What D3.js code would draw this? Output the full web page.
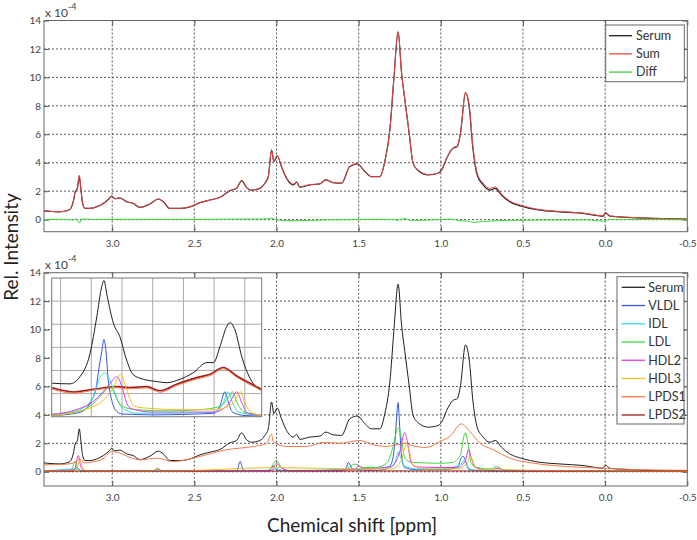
<!DOCTYPE html>
<html><head><meta charset="utf-8">
<script src="https://cdn.jsdelivr.net/npm/d3@7"></script>
<style>body{margin:0;background:#fff} text{font-family:Lato,"Liberation Sans",sans-serif}</style>
</head><body><svg id="c" width="697" height="540"></svg>
<script>
// ---------- data ----------
const xTicks = [3.0, 2.5, 2.0, 1.5, 1.0, 0.5, 0.0, -0.5];
const yTicks = [0, 2, 4, 6, 8, 10, 12, 14];
const topLegend = ["Serum", "Sum", "Diff"];
const botLegend = ["Serum", "VLDL", "IDL", "LDL", "HDL2", "HDL3", "LPDS1", "LPDS2"];

const serumPpm = [3.415,3.36,3.318,3.28,3.257,3.237,3.225,3.212,3.2,3.192,3.18,3.166,3.135,3.085,3.054,3.02,3.003,2.983,2.953,2.912,2.872,2.831,2.77,2.72,2.689,2.649,2.588,2.527,2.466,2.405,2.344,2.283,2.243,2.212,2.182,2.152,2.101,2.071,2.05,2.03,2.016,1.996,1.97,1.939,1.898,1.878,1.858,1.797,1.736,1.7,1.655,1.604,1.554,1.509,1.462,1.422,1.371,1.341,1.31,1.286,1.26,1.239,1.219,1.193,1.169,1.138,1.077,1.016,0.99,0.965,0.925,0.9,0.88,0.85,0.828,0.804,0.779,0.743,0.702,0.668,0.631,0.581,0.51,0.398,0.276,0.134,0.012,-0.002,-0.028,-0.13,-0.312,-0.5];
const serumVals = [0.62,0.57,0.55,0.62,0.72,1.26,1.95,2.2,3.02,2.32,1.14,0.79,0.79,0.95,1.14,1.45,1.66,1.47,1.52,1.26,1.14,0.86,1.1,1.45,1.26,0.79,0.79,0.9,1.19,1.38,1.57,2.04,2.2,2.74,2.25,2.08,2.2,2.56,3.02,4.91,4.08,4.49,3.73,2.91,2.44,2.63,2.28,2.44,2.51,2.79,2.6,2.56,3.73,3.92,3.38,3.02,3.02,4.08,6.33,9.86,13.2,10.33,8.45,6.09,3.97,3.45,3.14,3.26,3.6,4.3,5.03,5.14,6.09,8.92,7.97,4.91,3.14,2.44,2.08,2.2,1.73,1.26,0.95,0.67,0.55,0.44,0.25,0.48,0.25,0.16,0.08,0.04];
const sumVals = [0.62,0.57,0.56,0.62,0.73,1.28,1.97,2.22,3.12,2.3,1.14,0.8,0.79,0.95,1.14,1.45,1.67,1.47,1.52,1.26,1.14,0.86,1.1,1.45,1.27,0.79,0.79,0.9,1.19,1.38,1.57,2.04,2.2,2.74,2.25,2.08,2.2,2.56,3.0,4.85,4.08,4.5,3.73,2.95,2.5,2.63,2.32,2.46,2.52,2.8,2.6,2.56,3.73,3.92,3.38,3.02,3.02,4.08,6.33,9.86,13.2,10.3,8.45,6.13,3.99,3.48,3.17,3.26,3.6,4.3,5.05,5.17,6.12,8.95,8.1,5.1,3.3,2.58,2.2,2.3,1.8,1.32,1.0,0.7,0.57,0.46,0.27,0.5,0.26,0.17,0.08,0.04];

const diffPpm = [3.415,3.3,3.24,3.215,3.2,3.185,3.1,2.9,2.6,2.3,2.05,2.03,2.0,1.9,1.7,1.5,1.3,1.26,1.22,1.18,1.1,1.0,0.95,0.87,0.84,0.8,0.76,0.7,0.6,0.4,0.1,0.0,-0.02,-0.5];
const diffVals = [0.0,0.02,-0.02,0.05,-0.25,0.05,0.0,0.02,0.0,0.03,0.05,0.1,-0.02,-0.08,-0.02,0.0,0.02,-0.05,0.08,-0.05,-0.04,0.0,0.03,-0.08,-0.1,-0.2,-0.15,-0.1,-0.05,-0.03,-0.02,-0.12,0.0,0.0];

const vldlPpm = [3.415,3.24,3.215,3.2,3.17,2.3,2.24,2.222,2.2,2.05,2.02,1.99,1.6,1.575,1.563,1.54,1.5,1.4,1.33,1.3,1.28,1.265,1.26,1.252,1.24,1.22,1.15,1.0,0.9,0.875,0.865,0.85,0.83,0.7,-0.5];
const vldlVals = [0.02,0.05,0.3,0.15,0.03,0.03,0.1,0.73,0.1,0.05,0.4,0.1,0.05,0.3,0.66,0.25,0.15,0.1,0.2,0.6,2.0,4.4,4.87,3.5,1.2,0.3,0.15,0.15,0.3,1.0,1.1,0.8,0.15,0.05,0.02];
const idlPpm = [3.415,3.22,3.2,3.1,2.05,2.0,1.95,1.56,1.3,1.27,1.26,1.245,1.22,1.15,1.0,0.88,0.86,0.84,0.8,-0.5];
const idlVals = [0.02,0.2,0.1,0.03,0.05,0.2,0.05,0.2,0.3,1.0,1.4,1.0,0.4,0.2,0.2,0.5,0.8,0.4,0.1,0.02];
const ldlPpm = [3.415,3.25,3.226,3.21,3.18,2.75,2.73,2.7,2.05,2.0,1.97,1.93,1.6,1.52,1.48,1.4,1.33,1.29,1.265,1.254,1.24,1.22,1.19,1.15,1.0,0.93,0.88,0.86,0.85,0.835,0.815,0.78,0.7,0.66,0.62,0.5,-0.5];
const ldlVals = [0.03,0.1,0.73,0.3,0.05,0.05,0.25,0.05,0.1,0.8,0.3,0.1,0.1,0.54,0.3,0.3,0.6,1.8,3.0,3.07,2.3,1.0,0.7,0.65,0.6,0.65,1.2,2.5,2.75,2.0,0.6,0.3,0.2,0.35,0.15,0.1,0.03];
const hdl2Ppm = [3.415,3.23,3.206,3.19,3.16,2.75,2.72,2.69,2.03,2.0,1.97,1.9,1.53,1.5,1.46,1.3,1.25,1.22,1.205,1.18,1.15,1.0,0.9,0.85,0.83,0.815,0.79,0.7,0.65,0.6,-0.5];
const hdl2Vals = [0.03,0.15,1.15,0.3,0.05,0.03,0.2,0.03,0.1,0.6,0.25,0.05,0.15,0.4,0.2,0.4,1.4,2.76,2.2,0.6,0.35,0.3,0.3,0.8,1.6,1.0,0.3,0.1,0.25,0.05,0.02];
const hdl3Ppm = [3.415,3.22,3.196,3.18,3.15,2.76,2.73,2.7,2.0,1.5,1.3,1.24,1.21,1.195,1.17,1.1,0.9,0.84,0.82,0.8,0.77,-0.5];
const hdl3Vals = [0.02,0.1,0.84,0.3,0.05,0.03,0.15,0.03,0.3,0.2,0.2,0.8,1.9,1.6,0.5,0.2,0.2,0.6,1.1,0.6,0.15,0.02];
const lpds1Ppm = [3.415,3.3,3.237,3.196,3.17,3.135,3.05,3.003,2.953,2.9,2.83,2.73,2.629,2.466,2.304,2.142,2.06,2.03,2.02,1.94,1.817,1.716,1.615,1.493,1.41,1.33,1.21,1.19,1.088,1.006,0.945,0.874,0.823,0.762,0.681,0.58,0.439,0.236,0.033,-0.2,-0.5];
const lpds1Vals = [0.49,0.52,0.61,0.9,0.62,0.66,0.95,1.43,1.31,1.05,0.84,0.96,0.72,1.08,1.55,1.78,2.0,2.65,2.13,1.78,1.78,2.06,2.01,2.2,1.9,1.78,2.01,1.9,1.71,2.13,2.48,3.37,2.83,2.01,1.55,0.96,0.61,0.37,0.26,0.15,0.1];
const lpds2Ppm = [3.415,2.5,2.0,1.5,1.0,0.5,0.0,-0.5];
const lpds2Vals = [0.05,0.05,0.05,0.06,0.06,0.05,0.05,0.05];

// inset (zoom of 1.43 - 0.745 ppm, own arbitrary units 0-6)
const insetGridX = [1.4, 1.3, 1.2, 1.1, 1.0, 0.9, 0.8];
const insetGridY = [1, 2, 3, 4, 5];
const inSerumPpm = [1.429,1.37,1.337,1.304,1.282,1.266,1.259,1.248,1.228,1.207,1.185,1.163,1.13,1.087,1.054,1.011,0.968,0.924,0.902,0.881,0.859,0.848,0.832,0.81,0.783,0.745];
const inSerumVals = [1.45,1.42,1.73,2.74,4.33,5.63,5.89,5.19,4.04,3.46,2.45,1.81,1.62,1.52,1.47,1.62,1.9,2.34,2.34,3.03,3.9,4.07,3.75,2.6,1.66,1.13];
const inVldlPpm = [1.429,1.35,1.32,1.3,1.285,1.275,1.265,1.259,1.252,1.245,1.235,1.222,1.2,1.1,1.0,0.9,0.88,0.865,0.855,0.84,0.8,0.745];
const inVldlVals = [0.05,0.15,0.3,0.7,1.2,2.1,2.9,3.35,2.8,1.6,0.8,0.3,0.12,0.08,0.1,0.15,0.5,1.08,0.7,0.2,0.05,0.03];
const inIdlPpm = [1.429,1.35,1.3,1.28,1.265,1.255,1.24,1.225,1.21,1.19,1.15,1.0,0.9,0.87,0.855,0.84,0.82,0.745];
const inIdlVals = [0.1,0.25,0.7,1.4,1.85,1.9,1.6,1.1,0.6,0.3,0.15,0.15,0.2,0.6,1.08,0.6,0.2,0.05];
const inLdlPpm = [1.429,1.35,1.3,1.27,1.25,1.239,1.225,1.21,1.19,1.15,1.05,0.95,0.88,0.855,0.84,0.825,0.8,0.745];
const inLdlVals = [0.1,0.2,0.5,0.9,1.2,1.3,1.0,0.6,0.4,0.3,0.25,0.3,0.45,0.8,1.08,0.6,0.2,0.08];
const inHdl2Ppm = [1.429,1.35,1.3,1.26,1.235,1.217,1.2,1.185,1.17,1.1,0.9,0.85,0.826,0.81,0.79,0.745];
const inHdl2Vals = [0.1,0.3,0.6,1.1,1.5,1.73,1.3,0.6,0.35,0.2,0.2,0.6,1.08,0.6,0.15,0.05];
const inHdl3Ppm = [1.429,1.35,1.3,1.26,1.23,1.204,1.19,1.175,1.16,1.1,1.0,0.9,0.84,0.813,0.8,0.78,0.745];
const inHdl3Vals = [0.05,0.2,0.4,0.72,1.2,1.85,1.4,0.8,0.45,0.35,0.3,0.3,0.55,1.08,0.6,0.2,0.05];
const inLpdsPpm = [1.429,1.358,1.282,1.217,1.174,1.12,1.076,1.022,0.957,0.913,0.87,0.826,0.745];
const inLpds1Vals = [1.2,1.02,1.17,1.25,1.21,1.25,1.06,1.35,1.63,1.78,2.07,1.7,1.13];
const inLpds2Vals = [1.26,1.07,1.21,1.3,1.26,1.3,1.12,1.4,1.69,1.84,2.13,1.76,1.19];

// ---------- styles ----------
const colors = {Serum:"#1e1e1e", Sum:"#f04848", Diff:"#3ad83a", VLDL:"#3456e0", IDL:"#35dcef",
  LDL:"#3fd93f", HDL2:"#e03ee0", HDL3:"#f2c01e", LPDS1:"#f37848", LPDS2:"#a31c1c"};

const svg = d3.select("#c");
const L = 44, R = 687.3;
const x = d3.scaleLinear().domain([3.415, -0.5]).range([L, R]);
const yTop = d3.scaleLinear().domain([-0.85, 14]).range([231.7, 20.5]);
const yBot = d3.scaleLinear().domain([-1, 14]).range([486, 272.7]);
const fmt = d => d.toFixed(1);

function panel(y, id) {
  const g = svg.append("g");
  const [y0, y1] = y.range();
  g.append("g").selectAll("line").data(xTicks.filter(t => t > -0.5)).join("line")
    .attr("x1", d => x(d)).attr("x2", d => x(d)).attr("y1", y1).attr("y2", y0)
    .attr("stroke", "#444").attr("stroke-width", 0.9).attr("stroke-dasharray", "2,2");
  g.append("g").selectAll("line").data(yTicks.filter(t => t < 14)).join("line")
    .attr("x1", L).attr("x2", R).attr("y1", d => y(d)).attr("y2", d => y(d))
    .attr("stroke", "#444").attr("stroke-width", 0.9).attr("stroke-dasharray", "2,2");
  const ax = g.append("g").attr("color", "#555").style("font-size", "13px");
  ax.append("g").attr("transform", `translate(0,${y0})`)
    .call(d3.axisBottom(x).tickValues(xTicks).tickFormat(fmt).tickSizeInner(-5).tickSizeOuter(0).tickPadding(8));
  ax.append("g").attr("transform", `translate(0,${y1})`)
    .call(d3.axisTop(x).tickValues(xTicks).tickFormat("").tickSizeInner(-5).tickSizeOuter(0));
  ax.append("g").attr("transform", `translate(${L},0)`)
    .call(d3.axisLeft(y).tickValues(yTicks).tickFormat(d3.format("d")).tickSizeInner(-5).tickSizeOuter(0).tickPadding(3));
  ax.append("g").attr("transform", `translate(${R},0)`)
    .call(d3.axisRight(y).tickValues(yTicks).tickFormat("").tickSizeInner(-5).tickSizeOuter(0));
  ax.selectAll(".domain").remove();
  ax.selectAll("text").attr("fill", "#444");
  g.append("rect").attr("x", L).attr("y", y1).attr("width", R - L).attr("height", y0 - y1)
    .attr("fill", "none").attr("stroke", "#666").attr("stroke-width", 1);
  const ex = g.append("text").attr("x", L + 1).attr("y", y1 - 4).attr("fill", "#444").style("font-size", "12px");
  ex.append("tspan").text("x 10");
  ex.append("tspan").attr("dy", -7).style("font-size", "9px").text("-4");
  svg.append("clipPath").attr("id", id).append("rect")
    .attr("x", L).attr("y", y1).attr("width", R - L).attr("height", y0 - y1);
  return svg.append("g").attr("clip-path", `url(#${id})`);
}

function drawLine(g, xs, ys, ppm, vals, color, w) {
  const line = d3.line().x(d => xs(d[0])).y(d => ys(d[1])).curve(d3.curveMonotoneX);
  g.append("path").datum(d3.zip(ppm, vals)).attr("d", line)
    .attr("fill", "none").attr("stroke", color).attr("stroke-width", w).attr("stroke-linejoin", "round");
}

function legend(items, bx, by, bw, bh, lx1, lx2, tx, firstY, step) {
  const g = svg.append("g");
  g.append("rect").attr("x", bx).attr("y", by).attr("width", bw).attr("height", bh)
    .attr("fill", "#fff").attr("stroke", "#666").attr("stroke-width", 1);
  items.forEach((name, i) => {
    const yy = firstY + i * step;
    g.append("line").attr("x1", lx1).attr("x2", lx2).attr("y1", yy).attr("y2", yy)
      .attr("stroke", colors[name]).attr("stroke-width", 1.3);
    g.append("text").attr("x", tx).attr("y", yy).attr("dy", "0.35em").attr("fill", "#333")
      .style("font-size", "12.5px").text(name);
  });
}

// ---------- top panel ----------
const gt = panel(yTop, "clipTop");
drawLine(gt, x, yTop, serumPpm, serumVals, colors.Serum, 1.2);
drawLine(gt, x, yTop, serumPpm, sumVals, colors.Sum, 1);
drawLine(gt, x, yTop, diffPpm, diffVals, colors.Diff, 1);
legend(topLegend, 605.7, 25, 78.6, 56.7, 609, 632, 636, 35.7, 18.2);

// ---------- bottom panel ----------
const gb = panel(yBot, "clipBot");
drawLine(gb, x, yBot, serumPpm, serumVals, colors.Serum, 1);
drawLine(gb, x, yBot, vldlPpm, vldlVals, colors.VLDL, 1);
drawLine(gb, x, yBot, idlPpm, idlVals, colors.IDL, 1);
drawLine(gb, x, yBot, ldlPpm, ldlVals, colors.LDL, 1);
drawLine(gb, x, yBot, hdl2Ppm, hdl2Vals, colors.HDL2, 1);
drawLine(gb, x, yBot, hdl3Ppm, hdl3Vals, colors.HDL3, 1);
drawLine(gb, x, yBot, lpds1Ppm, lpds1Vals, colors.LPDS1, 1);
drawLine(gb, x, yBot, lpds2Ppm, lpds2Vals, colors.LPDS2, 1);
legend(botLegend, 617, 276.7, 67, 147.3, 621.7, 645, 648.3, 287.3, 18.24);

// ---------- inset ----------
const ix = d3.scaleLinear().domain([1.429, 0.745]).range([51.7, 261.7]);
const iy = d3.scaleLinear().domain([0, 6]).range([416.7, 278]);
const ig = svg.append("g");
ig.append("rect").attr("x", 51.7).attr("y", 278).attr("width", 210).attr("height", 138.7).attr("fill", "#fff");
ig.append("g").selectAll("line").data(insetGridX).join("line")
  .attr("x1", d => ix(d)).attr("x2", d => ix(d)).attr("y1", 278).attr("y2", 416.7)
  .attr("stroke", "#aaa").attr("stroke-width", 1);
ig.append("g").selectAll("line").data(insetGridY).join("line")
  .attr("x1", 51.7).attr("x2", 261.7).attr("y1", d => iy(d)).attr("y2", d => iy(d))
  .attr("stroke", "#aaa").attr("stroke-width", 1);
svg.append("clipPath").attr("id", "clipIn").append("rect").attr("x", 51.7).attr("y", 278).attr("width", 210).attr("height", 138.7);
const igc = svg.append("g").attr("clip-path", "url(#clipIn)");
drawLine(igc, ix, iy, inSerumPpm, inSerumVals, colors.Serum, 1);
drawLine(igc, ix, iy, inLpdsPpm, inLpds2Vals, colors.LPDS2, 1.6);
drawLine(igc, ix, iy, inLpdsPpm, inLpds1Vals, colors.LPDS1, 1);
drawLine(igc, ix, iy, inVldlPpm, inVldlVals, colors.VLDL, 1);
drawLine(igc, ix, iy, inIdlPpm, inIdlVals, colors.IDL, 1);
drawLine(igc, ix, iy, inLdlPpm, inLdlVals, colors.LDL, 1);
drawLine(igc, ix, iy, inHdl2Ppm, inHdl2Vals, colors.HDL2, 1);
drawLine(igc, ix, iy, inHdl3Ppm, inHdl3Vals, colors.HDL3, 1);
svg.append("rect").attr("x", 51.7).attr("y", 278).attr("width", 210).attr("height", 138.7)
  .attr("fill", "none").attr("stroke", "#777").attr("stroke-width", 1);

// ---------- titles ----------
svg.append("text").attr("transform", "translate(18,247) rotate(-90)").attr("text-anchor", "middle")
  .attr("fill", "#222").style("font-size", "19px").text("Rel. Intensity");
svg.append("text").attr("x", 352).attr("y", 532).attr("text-anchor", "middle")
  .attr("fill", "#222").style("font-size", "19px").text("Chemical shift [ppm]");
</script></body></html>
